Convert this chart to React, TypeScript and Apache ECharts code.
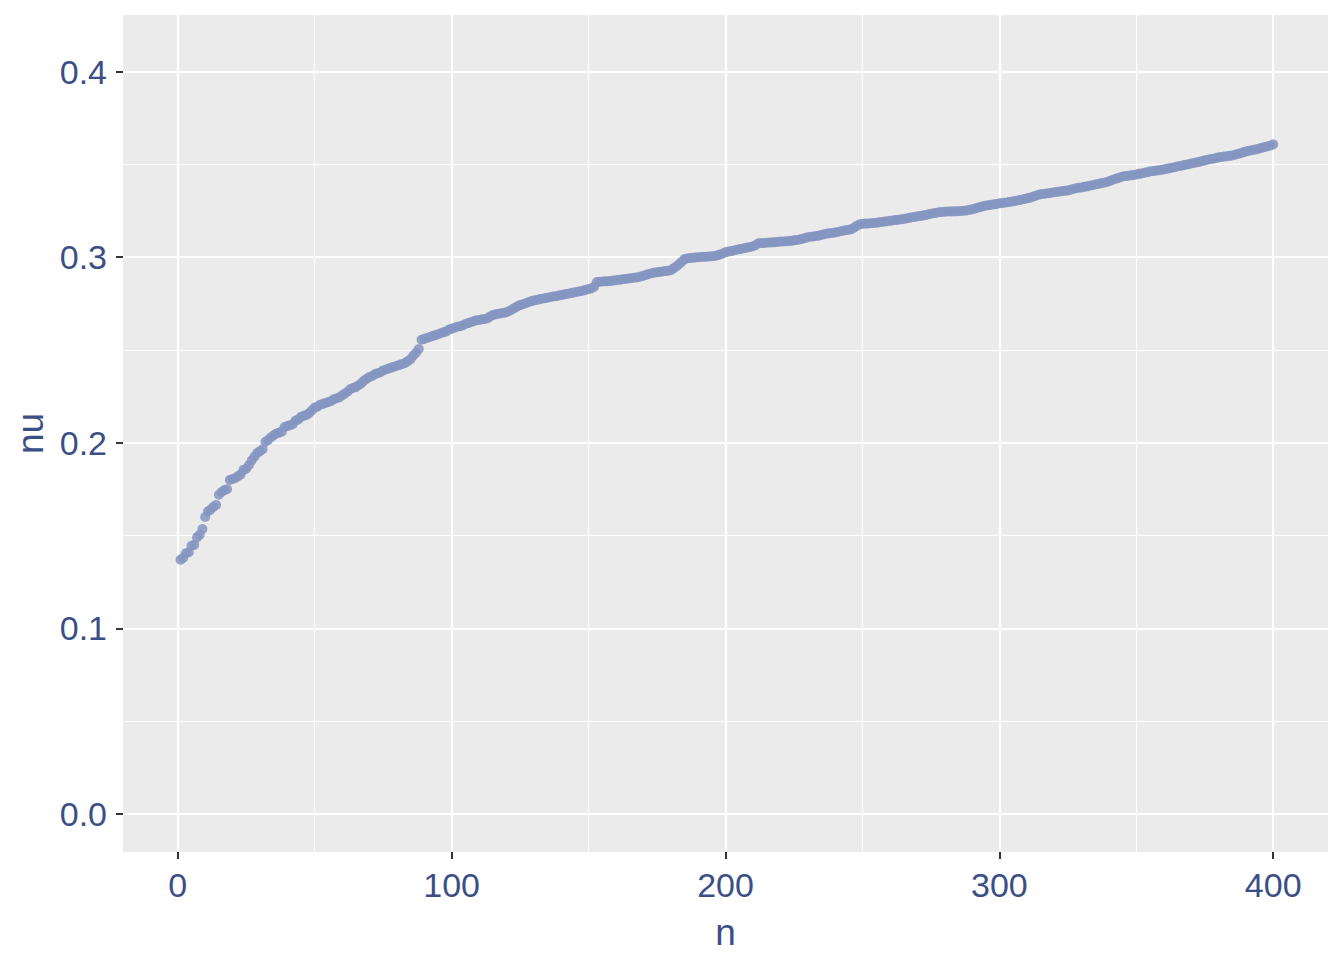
import React, { useEffect, useRef } from "react";
import * as echarts from "echarts";

// nu values (x 1e-4) for n = 1..400
const nuScaled: number[] = [
  1370, 1380, 1405, 1410, 1445, 1450, 1490, 1505, 1535, 1600,
  1630, 1640, 1655, 1665, 1720, 1735, 1745, 1750, 1800, 1805,
  1810, 1820, 1830, 1855, 1860, 1880, 1905, 1925, 1945, 1955,
  1965, 2005, 2015, 2030, 2040, 2050, 2055, 2060, 2085, 2090,
  2095, 2100, 2120, 2125, 2140, 2145, 2150, 2160, 2175, 2190,
  2195, 2205, 2210, 2215, 2220, 2225, 2235, 2240, 2245, 2255,
  2265, 2275, 2290, 2295, 2300, 2310, 2320, 2335, 2345, 2355,
  2360, 2370, 2375, 2380, 2390, 2395, 2400, 2405, 2410, 2415,
  2420, 2425, 2430, 2440, 2450, 2470, 2485, 2505, 2555, 2560,
  2565, 2570, 2575, 2580, 2585, 2590, 2595, 2600, 2610, 2615,
  2620, 2625, 2628, 2632, 2640, 2645, 2650, 2655, 2660, 2662,
  2665, 2667, 2670, 2680, 2688, 2692, 2695, 2698, 2700, 2704,
  2710, 2718, 2726, 2735, 2742, 2747, 2752, 2757, 2762, 2767,
  2770, 2773, 2776, 2779, 2782, 2785, 2788, 2790, 2793, 2796,
  2799, 2802, 2805, 2808, 2811, 2814, 2817, 2820, 2824, 2828,
  2832, 2840, 2866, 2868, 2869, 2870, 2871, 2872, 2874, 2876,
  2878, 2880, 2882, 2884, 2886, 2888, 2890, 2892, 2896, 2900,
  2905, 2910, 2914, 2917, 2919, 2921, 2923, 2925, 2927, 2930,
  2940, 2950, 2962, 2975, 2990, 2993, 2995, 2997, 2999, 3000,
  3001, 3002, 3003, 3004, 3005, 3007, 3010, 3015, 3020, 3027,
  3030, 3033, 3036, 3040, 3043, 3046, 3049, 3052, 3055, 3059,
  3065, 3075, 3076, 3077, 3078, 3079, 3080, 3081, 3083, 3084,
  3085, 3086, 3087, 3088, 3091, 3093, 3096, 3099, 3103, 3108,
  3110, 3112, 3114, 3116, 3120, 3124, 3127, 3129, 3131, 3133,
  3136, 3140, 3143, 3146, 3148, 3151, 3160, 3170, 3177, 3180,
  3181, 3182, 3183, 3184, 3185, 3188, 3190, 3192, 3194, 3196,
  3198, 3200, 3202, 3204, 3206, 3209, 3212, 3215, 3217, 3220,
  3222, 3224, 3227, 3231, 3234, 3237, 3240, 3242, 3244, 3245,
  3246, 3246, 3247, 3247, 3248, 3249, 3250, 3252, 3255, 3258,
  3262, 3266, 3270, 3275, 3278, 3280, 3283, 3285, 3287, 3290,
  3292, 3294, 3296, 3299, 3301, 3304, 3307, 3310, 3313, 3317,
  3320, 3325, 3330, 3335, 3339, 3341, 3343, 3345, 3347, 3350,
  3352, 3354, 3356, 3358, 3360, 3364, 3368, 3372, 3374, 3376,
  3379, 3382, 3385, 3388, 3392, 3395, 3398, 3401, 3404, 3409,
  3415, 3420, 3425, 3430, 3435, 3437, 3439, 3441, 3443, 3446,
  3449, 3452, 3455, 3458, 3462, 3464, 3466, 3468, 3470, 3473,
  3476, 3479, 3482, 3485, 3489, 3492, 3495, 3498, 3501, 3505,
  3508, 3511, 3514, 3518, 3522, 3525, 3528, 3531, 3534, 3538,
  3540, 3542, 3544, 3546, 3548, 3552, 3556, 3560, 3565, 3570,
  3573, 3576, 3579, 3582, 3586, 3590, 3594, 3598, 3602, 3608,
];

const xTicks = [0, 100, 200, 300, 400];
const yTicks = [0, 0.1, 0.2, 0.3, 0.4];
const xMinor = [50, 150, 250, 350];
const yMinor = [0.05, 0.15, 0.25, 0.35];

const TEXT = "#3B4F86";
const FONT = "'Liberation Sans', Arial, sans-serif";

export default function App() {
  const ref = useRef<HTMLDivElement>(null);
  useEffect(() => {
    if (!ref.current) return;
    const chart = echarts.init(ref.current, undefined, { renderer: "svg" });
    const points = nuScaled.map((v, i) => [i + 1, v / 10000]);
    const gridLines: any[] = [];
    xMinor.forEach((v) => gridLines.push({ xAxis: v, lineStyle: { width: 1, color: "#FFFFFF", type: "solid" } }));
    yMinor.forEach((v) => gridLines.push({ yAxis: v, lineStyle: { width: 1, color: "#FFFFFF", type: "solid" } }));
    xTicks.forEach((v) => gridLines.push({ xAxis: v, lineStyle: { width: 2, color: "#FFFFFF", type: "solid" } }));
    yTicks.forEach((v) => gridLines.push({ yAxis: v, lineStyle: { width: 2, color: "#FFFFFF", type: "solid" } }));
    chart.setOption({
      animation: false,
      grid: {
        left: 123,
        top: 15,
        width: 1205,
        height: 837,
        show: true,
        backgroundColor: "#EBEBEB",
        borderWidth: 0,
      },
      xAxis: {
        type: "value",
        min: -20,
        max: 420,
        name: "n",
        nameLocation: "middle",
        nameGap: 62,
        nameTextStyle: { color: TEXT, fontSize: 37, fontFamily: FONT },
        axisLine: { show: true, onZero: false, lineStyle: { color: "rgba(0,0,0,0)", width: 0 } },
        axisTick: { show: true, inside: false, length: 7, customValues: xTicks, lineStyle: { color: "#333333", width: 2 } },
        axisLabel: { customValues: xTicks, color: TEXT, fontSize: 34, fontFamily: FONT, margin: 16 },
        splitLine: { show: false },
      },
      yAxis: {
        type: "value",
        min: -0.0205,
        max: 0.4305,
        name: "nu",
        nameLocation: "middle",
        nameRotate: 90,
        nameGap: 72,
        nameTextStyle: { color: TEXT, fontSize: 37, fontFamily: FONT },
        axisLine: { show: true, onZero: false, lineStyle: { color: "rgba(0,0,0,0)", width: 0 } },
        axisTick: { show: true, inside: false, length: 7, customValues: yTicks, lineStyle: { color: "#333333", width: 2 } },
        axisLabel: {
          customValues: yTicks,
          color: TEXT,
          fontSize: 34,
          fontFamily: FONT,
          margin: 16,
          formatter: (v: number) => v.toFixed(1),
        },
        splitLine: { show: false },
      },
      series: [
        {
          type: "line",
          data: [],
          z: 1,
          silent: true,
          markLine: {
            silent: true,
            symbol: ["none", "none"],
            label: { show: false },
            animation: false,
            data: gridLines,
          },
        },
        {
          type: "scatter",
          z: 5,
          data: points,
          symbolSize: 10,
          itemStyle: { color: "#8595C1", opacity: 0.85 },
          silent: true,
        },
      ],
    });
    return () => chart.dispose();
  }, []);
  return (
    <div
      ref={ref}
      style={{ position: "fixed", left: 0, top: 0, width: 1344, height: 960, background: "#FFFFFF" }}
    />
  );
}
